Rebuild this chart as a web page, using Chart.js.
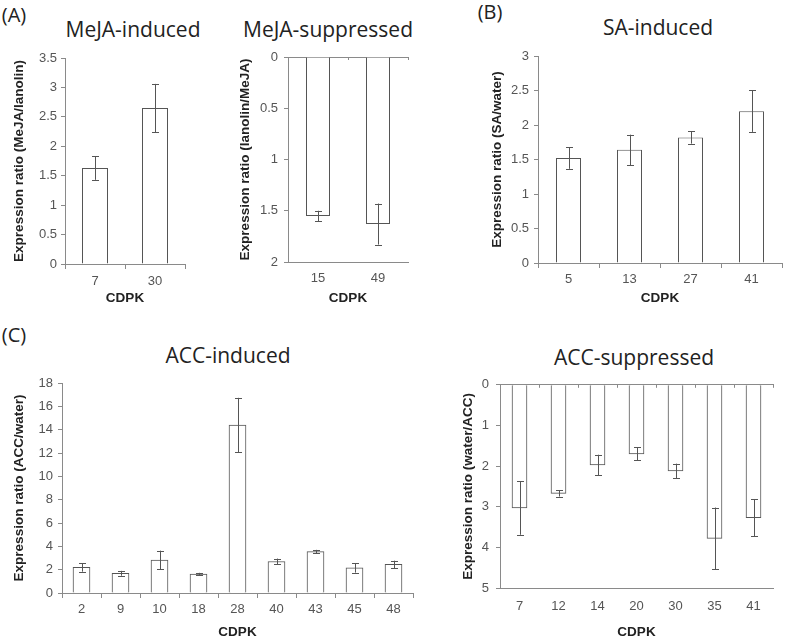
<!DOCTYPE html>
<html>
<head>
<meta charset="utf-8">
<script src="https://cdn.jsdelivr.net/npm/chart.js@4.4.1/dist/chart.umd.min.js"></script>
<style>
  html, body { margin: 0; padding: 0; background: #fff; overflow: hidden; }
  body { width: 787px; height: 637px; position: relative; }
  canvas { position: absolute; }
  .lbl { position: absolute; font-family: "Open Sans", "DejaVu Sans", sans-serif; color: #222; white-space: nowrap; text-align: center; }
</style>
</head>
<body>
<div class="lbl" style="left:0px; top:3px; width:28px; font-size:20px; line-height:24px;">(A)</div>
<div class="lbl" style="left:476px; top:0px; width:28px; font-size:20px; line-height:24px;">(B)</div>
<div class="lbl" style="left:0px; top:323px; width:28px; font-size:20px; line-height:24px;">(C)</div>
<div class="lbl" style="left:33px; top:15px; width:200px; font-size:21px; line-height:28px;">MeJA-induced</div>
<div class="lbl" style="left:228px; top:15px; width:200px; font-size:21px; line-height:28px;">MeJA-suppressed</div>
<div class="lbl" style="left:558px; top:13px; width:200px; font-size:21px; line-height:28px;">SA-induced</div>
<div class="lbl" style="left:128px; top:341px; width:200px; font-size:21px; line-height:28px;">ACC-induced</div>
<div class="lbl" style="left:534px; top:343px; width:200px; font-size:21px; line-height:28px;">ACC-suppressed</div>

<canvas id="cA1" width="200" height="270" style="left:0px; top:40px;"></canvas>
<canvas id="cA2" width="190" height="270" style="left:230px; top:40px;"></canvas>
<canvas id="cB" width="317" height="270" style="left:470px; top:40px;"></canvas>
<canvas id="cC1" width="416" height="270" style="left:0px; top:370px;"></canvas>
<canvas id="cC2" width="347" height="270" style="left:440px; top:370px;"></canvas>

<script>
// ---- Data ----
const mejaIndCats = ['7', '30'];
const mejaIndVals = [1.63, 2.65];
const mejaIndErr  = [0.20, 0.41];

const mejaSupCats = ['15', '49'];
const mejaSupVals = [1.55, 1.63];
const mejaSupErr  = [0.05, 0.20];

const saIndCats = ['5', '13', '27', '41'];
const saIndVals = [1.52, 1.64, 1.82, 2.20];
const saIndErr  = [0.155, 0.22, 0.09, 0.30];

const accIndCats = ['2', '9', '10', '18', '28', '40', '43', '45', '48'];
const accIndVals = [2.20, 1.69, 2.83, 1.63, 14.4, 2.70, 3.55, 2.15, 2.45];
const accIndErr  = [0.37, 0.21, 0.80, 0.10, 2.33, 0.25, 0.15, 0.40, 0.32];

const accSupCats = ['7', '12', '14', '20', '30', '35', '41'];
const accSupVals = [3.03, 2.67, 1.97, 1.70, 2.12, 3.78, 3.27];
const accSupErr  = [0.66, 0.08, 0.25, 0.16, 0.18, 0.76, 0.46];

// ---- Styles ----
const AXIS = '#8a8a8a';
const TICKC = '#555';
const TICKFONT = { family: '"Liberation Sans", Arial, sans-serif', size: 13 };
const TITLEFONT = { family: '"Liberation Sans", Arial, sans-serif', size: 13.5, weight: 'bold' };

const errorBars = {
  id: 'errorBars',
  afterDatasetsDraw(chart) {
    const ctx = chart.ctx;
    const yS = chart.scales.y;
    chart.data.datasets.forEach((ds, di) => {
      if (!ds.errors) return;
      const meta = chart.getDatasetMeta(di);
      ctx.save();
      ctx.strokeStyle = '#555';
      ctx.lineWidth = 1;
      meta.data.forEach((el, i) => {
        const v = ds.data[i], e = ds.errors[i];
        const x = Math.round(el.x) + 0.5;
        const y1 = yS.getPixelForValue(v - e);
        const y2 = yS.getPixelForValue(v + e);
        ctx.beginPath();
        ctx.moveTo(x, y1); ctx.lineTo(x, y2);
        ctx.moveTo(x - 3.5, Math.round(y1) + 0.5); ctx.lineTo(x + 3.5, Math.round(y1) + 0.5);
        ctx.moveTo(x - 3.5, Math.round(y2) + 0.5); ctx.lineTo(x + 3.5, Math.round(y2) + 0.5);
        ctx.stroke();
      });
      ctx.restore();
    });
  }
};

const fmt = v => String(Number(v.toFixed(2)));

function makeChart(id, cats, vals, errs, c) {
  const scales = {
    x: {
      type: 'category',
      position: 'bottom',
      offset: true,
      border: { display: true, color: AXIS, width: 1 },
      grid: { display: true, offset: true, drawOnChartArea: false, drawTicks: !c.reversed, tickLength: 5, color: AXIS },
      ticks: { color: TICKC, font: TICKFONT, padding: c.xTickPad, maxRotation: 0, autoSkip: false },
      title: { display: true, text: 'CDPK', color: '#222', font: TITLEFONT, padding: { top: 0, bottom: c.xTitlePad } },
      afterFit: s => { s.height = c.xHeight; }
    },
    y: {
      type: 'linear',
      position: 'left',
      reverse: !!c.reversed,
      min: 0,
      max: c.yMax,
      border: { display: true, color: AXIS, width: 1 },
      grid: { display: true, drawOnChartArea: false, drawTicks: true, tickLength: 4, color: AXIS },
      ticks: { stepSize: c.yStep, color: TICKC, font: TICKFONT, padding: c.yTickPad, callback: fmt },
      title: { display: true, text: c.yTitle, color: '#222', font: TITLEFONT, padding: { top: c.yTitlePad, bottom: 0 } },
      afterFit: s => { s.width = c.yWidth; }
    }
  };
  if (c.reversed) {
    scales.xTop = {
      type: 'category',
      position: 'top',
      labels: cats,
      offset: true,
      border: { display: true, color: AXIS, width: 1 },
      grid: { display: true, offset: true, drawOnChartArea: false, drawTicks: true, tickLength: -3, color: AXIS },
      ticks: { display: false },
      afterFit: s => { s.height = c.topHeight; }
    };
  }
  const ds = {
    data: vals,
    errors: errs,
    backgroundColor: '#ffffff',
    borderColor: '#555555',
    borderWidth: 1,
    borderSkipped: 'start',
    categoryPercentage: 1.0,
    barPercentage: c.barPct
  };
  if (c.barThickness) ds.barThickness = c.barThickness;
  return new Chart(document.getElementById(id), {
    type: 'bar',
    data: { labels: cats, datasets: [ds] },
    options: {
      responsive: false,
      animation: false,
      layout: { padding: c.padding },
      plugins: { legend: { display: false }, tooltip: { enabled: false }, title: { display: false } },
      scales: scales
    },
    plugins: [errorBars]
  });
}

// A-left: plot 65..185 x 58..264
makeChart('cA1', mejaIndCats, mejaIndVals, mejaIndErr, {
  yMax: 3.5, yStep: 0.5, yTitle: 'Expression ratio (MeJA/lanolin)',
  yWidth: 65, yTickPad: 4, yTitlePad: 11,
  xHeight: 46, xTickPad: 5, xTitlePad: 4,
  padding: { top: 18, right: 15, left: 0, bottom: 0 }, barPct: 26 / 60
});
// A-right (reversed): plot 288..408 x 57..262
makeChart('cA2', mejaSupCats, mejaSupVals, mejaSupErr, {
  reversed: true, topHeight: 17,
  yMax: 2, yStep: 0.5, yTitle: 'Expression ratio (lanolin/MeJA)',
  yWidth: 58, yTickPad: 6, yTitlePad: 7,
  xHeight: 48, xTickPad: 9, xTitlePad: 4,
  padding: { top: 0, right: 12, left: 0, bottom: 0 }, barPct: 0.4
});
// B: plot 538..782 x 56..263
makeChart('cB', saIndCats, saIndVals, saIndErr, {
  yMax: 3, yStep: 0.5, yTitle: 'Expression ratio (SA/water)',
  yWidth: 68, yTickPad: 5, yTitlePad: 19,
  xHeight: 47, xTickPad: 4, xTitlePad: 4,
  padding: { top: 16, right: 5, left: 0, bottom: 0 }, barPct: 25 / 61
});
// C-left: plot 62..413 x 383..593
makeChart('cC1', accIndCats, accIndVals, accIndErr, {
  yMax: 18, yStep: 2, yTitle: 'Expression ratio (ACC/water)',
  yWidth: 62, yTickPad: 5, yTitlePad: 11,
  xHeight: 47, xTickPad: 4, xTitlePad: 0,
  padding: { top: 13, right: 3, left: 0, bottom: 0 }, barPct: 0.44, barThickness: 17
});
// C-right (reversed): plot 500..773 x 382..588
makeChart('cC2', accSupCats, accSupVals, accSupErr, {
  reversed: true, topHeight: 12,
  yMax: 5, yStep: 1, yTitle: 'Expression ratio (water/ACC)',
  yWidth: 60, yTickPad: 7, yTitlePad: 20,
  xHeight: 52, xTickPad: 11, xTitlePad: 0,
  padding: { top: 0, right: 14, left: 0, bottom: 0 }, barPct: 0.41, barThickness: 15
});
</script>
</body>
</html>
